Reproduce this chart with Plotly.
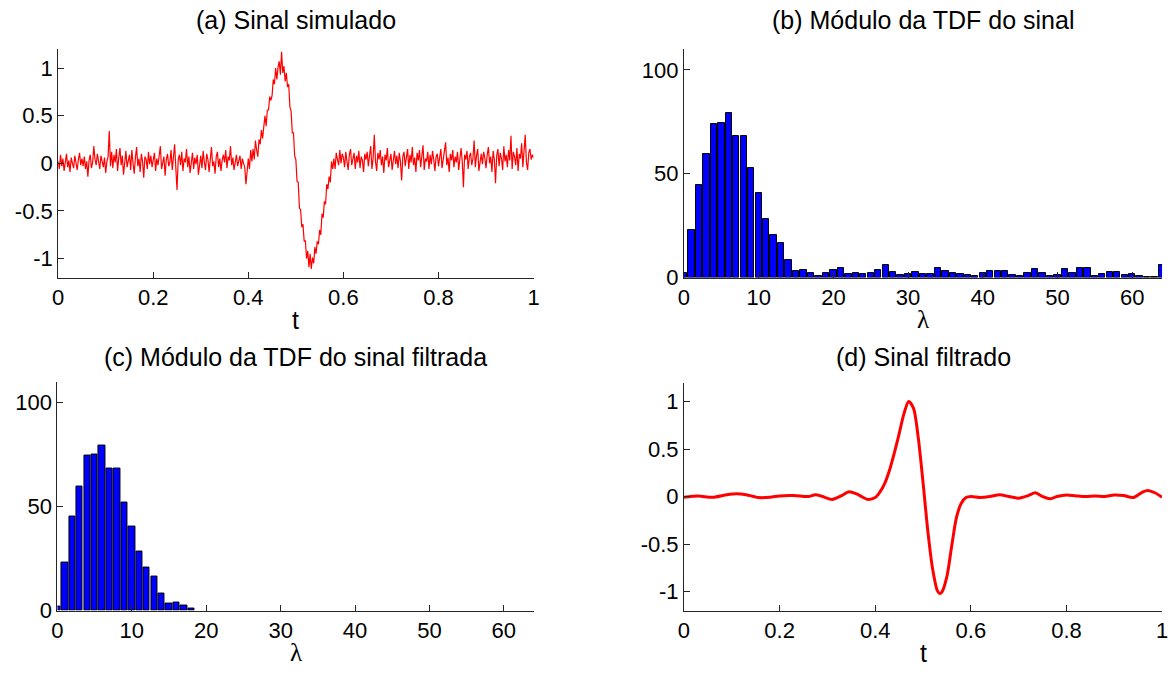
import numpy as np
import plotly.graph_objects as go

# ---------------- data ----------------
# (a) simulated noisy signal, evenly sampled on [0, 1]
sig_sim = [
    0.02, -0.06, 0.09, -0.03, 0.05, -0.08, 0.01, 0.10, -0.04, 0.03, -0.09, 0.06, 0.00, -0.05, 0.08, 0.02, -0.07, 0.04, 0.11, -0.02,
    0.05, -0.03, 0.07, -0.06, 0.02, -0.14, 0.03, 0.09, -0.05, 0.01, 0.18, 0.04, -0.02, 0.10, 0.03, -0.06, 0.08, 0.01, -0.04, 0.06,
    -0.10, 0.02, 0.07, 0.34, -0.03, 0.12, -0.05, 0.09, 0.01, 0.15, -0.08, 0.06, 0.16, -0.02, 0.08, -0.12, 0.04, 0.13, -0.04, 0.02,
    0.09, -0.07, 0.14, 0.00, -0.11, 0.06, 0.17, -0.03, 0.05, -0.09, 0.10, 0.02, -0.15, 0.07, 0.04, -0.06, 0.12, -0.01, 0.08, -0.04,
    0.03, 0.11, -0.08, 0.05, -0.02, 0.09, 0.18, -0.06, 0.02, 0.07, -0.13, 0.04, 0.10, -0.03, 0.01, 0.14, -0.07, 0.06, 0.20, -0.05,
    -0.28, 0.04, 0.09, -0.02, 0.12, -0.08, 0.05, 0.01, 0.15, -0.04, 0.07, -0.10, 0.03, 0.11, -0.06, 0.06, -0.01, 0.09, -0.12, 0.02,
    0.08, -0.05, 0.13, 0.01, -0.07, 0.10, 0.04, -0.09, 0.06, 0.17, -0.03, 0.02, -0.11, 0.07, 0.12, -0.04, 0.05, -0.08, 0.03, 0.09,
    0.01, 0.14, -0.05, 0.07, 0.03, 0.18, -0.02, 0.06, -0.07, 0.04, 0.09, -0.03, 0.02, 0.08, -0.06, 0.05, 0.00, -0.04, -0.22, -0.09,
    0.05, -0.06, 0.14, 0.02, 0.15, 0.04, 0.24, 0.14, 0.07, 0.25, 0.20, 0.35, 0.26, 0.38, 0.50, 0.39, 0.56, 0.56, 0.70, 0.66,
    0.71, 0.88, 0.83, 1.00, 0.88, 1.01, 1.07, 0.93, 1.17, 0.95, 1.02, 0.86, 0.95, 0.80, 0.83, 0.59, 0.55, 0.32, 0.32, 0.08,
    0.04, -0.19, -0.20, -0.47, -0.49, -0.67, -0.64, -0.82, -0.81, -1.00, -0.92, -1.09, -0.95, -1.11, -0.99, -1.05, -0.88, -0.95, -0.82, -0.85,
    -0.70, -0.75, -0.53, -0.57, -0.40, -0.43, -0.22, -0.27, -0.14, -0.20, 0.02, -0.06, 0.05, -0.06, 0.11, 0.04, -0.02, 0.14, 0.00, 0.10,
    0.06, -0.04, 0.12, 0.02, -0.07, 0.09, 0.15, -0.02, 0.05, 0.11, -0.06, 0.08, 0.01, 0.13, -0.05, 0.07, 0.03, -0.09, 0.10, 0.04,
    0.12, -0.03, 0.08, 0.18, -0.06, 0.05, 0.30, 0.02, -0.08, 0.11, 0.04, 0.14, -0.02, 0.07, -0.10, 0.09, 0.03, 0.16, -0.04, 0.06,
    0.10, -0.07, 0.04, 0.13, -0.01, 0.08, -0.05, 0.11, 0.02, -0.18, 0.07, 0.12, -0.03, 0.05, 0.15, -0.06, 0.09, 0.01, 0.17, -0.02,
    0.06, -0.09, 0.11, 0.03, 0.14, -0.04, 0.08, 0.19, -0.07, 0.05, 0.02, 0.12, -0.06, 0.09, -0.01, 0.13, 0.04, -0.08, 0.07, 0.10,
    -0.03, 0.08, 0.15, -0.05, 0.04, 0.11, 0.22, -0.02, 0.06, -0.09, 0.10, 0.03, 0.14, -0.04, 0.07, 0.01, 0.12, -0.07, 0.05, 0.16,
    0.02, -0.25, 0.09, 0.04, 0.13, -0.06, 0.07, 0.11, -0.02, 0.05, 0.24, -0.04, 0.08, 0.15, -0.08, 0.03, 0.10, -0.01, 0.12, 0.06,
    -0.05, 0.09, 0.17, 0.00, 0.07, -0.09, 0.13, 0.04, -0.21, 0.08, 0.15, -0.03, 0.11, 0.05, -0.07, 0.18, 0.02, 0.09, -0.04, 0.14,
    0.03, 0.29, -0.06, 0.12, 0.07, -0.02, 0.16, -0.08, 0.10, 0.05, 0.21, -0.04, 0.13, 0.30, 0.01, -0.07, 0.11, 0.15, 0.04, 0.09,
    0.06,
]
t_sim = np.linspace(0.0, 1.0, len(sig_sim))

# (b) |DFT| of the signal, frequencies 0..64
lam = list(range(65))
dft_mag = [
    2.0, 22.9, 44.6, 59.4, 74.0, 74.4, 79.0, 67.9, 67.9, 52.5,
    40.6, 28.3, 20.6, 16.5, 8.4, 3.3, 3.8, 2.2, 0.8, 2.4,
    3.8, 4.4, 1.7, 2.4, 1.9, 2.4, 3.8, 5.9, 2.9, 1.4,
    1.9, 2.9, 1.9, 1.9, 4.4, 3.3, 2.2, 1.5, 1.2, 0.8,
    2.4, 3.0, 3.0, 3.0, 1.1, 0.6, 2.4, 4.0, 2.4, 0.6,
    1.4, 4.0, 2.4, 4.6, 4.6, 0.6, 1.6, 2.7, 2.7, 1.1,
    1.6, 0.6, 0.1, 0.1, 5.9,
]

# (c) |DFT| after filtering
dft_filt = [
    2.0, 22.9, 45.0, 59.7, 74.3, 74.8, 79.4, 68.4, 68.0, 52.0,
    40.5, 28.3, 20.6, 16.5, 8.4, 3.2, 3.8, 2.2, 1.0, 0.0,
    0.0, 0.0, 0.0, 0.0, 0.0, 0.0, 0.0, 0.0, 0.0, 0.0,
    0.0, 0.0, 0.0, 0.0, 0.0, 0.0, 0.0, 0.0, 0.0, 0.0,
    0.0, 0.0, 0.0, 0.0, 0.0, 0.0, 0.0, 0.0, 0.0, 0.0,
    0.0, 0.0, 0.0, 0.0, 0.0, 0.0, 0.0, 0.0, 0.0, 0.0,
    0.0, 0.0, 0.0, 0.0, 0.0,
]

# (d) filtered signal
t_filt = [0.00, 0.03, 0.06, 0.09, 0.11, 0.13, 0.155, 0.18, 0.20, 0.23,
          0.26, 0.275, 0.29, 0.31, 0.33, 0.345, 0.36, 0.375, 0.385, 0.40,
          0.41, 0.42, 0.43, 0.44, 0.45, 0.46, 0.47, 0.48, 0.49, 0.50,
          0.51, 0.52, 0.53, 0.535, 0.54, 0.55, 0.56, 0.57, 0.58, 0.59,
          0.60, 0.62, 0.64, 0.66, 0.68, 0.70, 0.72, 0.735, 0.75, 0.765,
          0.78, 0.80, 0.82, 0.84, 0.86, 0.88, 0.90, 0.92, 0.94, 0.96,
          0.97, 0.985, 1.00]
sig_filt = [-0.007, 0.005, -0.007, 0.02, 0.03, 0.02, -0.01, -0.007, 0.007, 0.01,
            0.0, 0.02, 0.0, -0.03, 0.01, 0.05, 0.03, -0.01, -0.03, -0.01,
            0.05, 0.14, 0.28, 0.46, 0.66, 0.87, 1.0, 0.93, 0.62, 0.15,
            -0.36, -0.76, -0.99, -1.02, -1.0, -0.84, -0.52, -0.22, -0.07, -0.01,
            0.0, -0.01, 0.0, 0.02, 0.0, -0.017, 0.01, 0.04, 0.0, -0.024,
            0.0, 0.017, 0.007, 0.0, 0.007, 0.0, 0.017, 0.01, -0.01, 0.05,
            0.065, 0.04, -0.007]

t_ticks = [0, 0.2, 0.4, 0.6, 0.8, 1]
t_ticktext = ["0", "0.2", "0.4", "0.6", "0.8", "1"]
amp_ticks = [-1, -0.5, 0, 0.5, 1]
amp_ticktext = ["-1", "-0.5", "0", "0.5", "1"]
lam_ticks = [0, 10, 20, 30, 40, 50, 60]
mag_ticks = [0, 50, 100]

titles = ["(a) Sinal simulado", "(b) Módulo da TDF do sinal",
          "(c) Módulo da TDF do sinal filtrada", "(d) Sinal filtrado"]
xlabels = ["t", "λ", "λ", "t"]

# ---------------- figure ----------------
W, H = 1173, 679
RED = "#FF0000"
BLUE = "#0000FF"
AX = "#262626"
FONT = "Liberation Sans, Arial, sans-serif"


def bar_edges(vals):
    return [1 if v > 0 else 0 for v in vals]


fig = go.Figure()
fig.add_trace(go.Scatter(x=t_sim, y=sig_sim, mode="lines",
                         line=dict(color=RED, width=1.2), xaxis="x", yaxis="y"))
fig.add_trace(go.Bar(x=lam, y=dft_mag, width=0.85,
                     marker=dict(color=BLUE, line=dict(color="black", width=bar_edges(dft_mag))),
                     xaxis="x2", yaxis="y2"))
fig.add_trace(go.Bar(x=lam, y=dft_filt, width=0.85,
                     marker=dict(color=BLUE, line=dict(color="black", width=bar_edges(dft_filt))),
                     xaxis="x3", yaxis="y3"))
fig.add_trace(go.Scatter(x=t_filt, y=sig_filt, mode="lines",
                         line=dict(color=RED, width=3, shape="spline", smoothing=0.8), xaxis="x4", yaxis="y4"))

# pixel boxes: (left, right, top, bottom)
boxes = [(52.7, 533, 50, 283), (685, 1168, 50, 283), (52, 533, 389, 622.5), (685, 1168, 390, 622.5)]
title_y = [20, 20, 364, 364]


def dom(b):
    l, r, t, bt = b
    return [l / W, r / W], [1 - bt / H, 1 - t / H]


common = dict(showline=True, linecolor=AX, linewidth=1, ticks="inside", ticklen=6, tickcolor=AX,
              tickwidth=1, showgrid=False, zeroline=False, mirror=False,
              tickfont=dict(family=FONT, size=22, color="black"))

xr = [[0, 1], [0, 64], [0, 64], [0, 1]]
yr = [[-1.2, 1.2], [0, 110], [0, 110], [-1.2, 1.2]]
xt = [(t_ticks, t_ticktext), (lam_ticks, [str(v) for v in lam_ticks]),
      (lam_ticks, [str(v) for v in lam_ticks]), (t_ticks, t_ticktext)]
yt = [(amp_ticks, amp_ticktext), (mag_ticks, [str(v) for v in mag_ticks]),
      (mag_ticks, [str(v) for v in mag_ticks]), (amp_ticks, amp_ticktext)]

layout = dict(width=W, height=H, margin=dict(l=0, r=0, t=0, b=0),
              paper_bgcolor="white", plot_bgcolor="white", showlegend=False,
              bargap=0, font=dict(family=FONT, color="black"))
for i in range(4):
    xd, yd = dom(boxes[i])
    sfx = "" if i == 0 else str(i + 1)
    layout["xaxis" + sfx] = dict(domain=xd, range=xr[i], tickvals=xt[i][0], ticktext=xt[i][1],
                                 anchor="y" + sfx, **common)
    layout["yaxis" + sfx] = dict(domain=yd, range=yr[i], tickvals=yt[i][0], ticktext=yt[i][1],
                                 anchor="x" + sfx, **common)
fig.update_layout(**layout)

anns = []
for i, b in enumerate(boxes):
    l, r, t, bt = b
    cx = (l + r) / 2
    anns.append(dict(text=titles[i], x=cx / W, y=1 - title_y[i] / H, xref="paper", yref="paper",
                     xanchor="center", yanchor="middle", showarrow=False,
                     font=dict(family=FONT, size=25, color="black")))
    lab_font = FONT if xlabels[i] == "t" else "Liberation Serif, DejaVu Serif, serif"
    anns.append(dict(text=xlabels[i], x=cx / W, y=1 - (bt + 43) / H, xref="paper", yref="paper",
                     xanchor="center", yanchor="middle", showarrow=False,
                     font=dict(family=lab_font, size=25, color="black")))
fig.update_layout(annotations=anns)

fig.write_html("out.html")
